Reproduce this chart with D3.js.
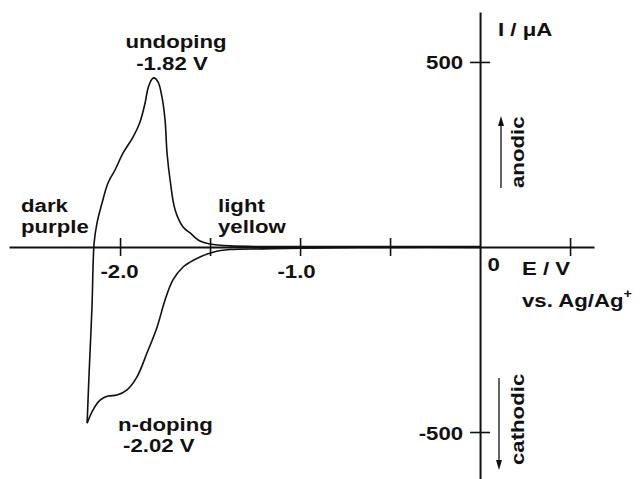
<!DOCTYPE html>
<html><head><meta charset="utf-8">
<script src="https://cdn.jsdelivr.net/npm/d3@7"></script>
<style>
html,body{margin:0;padding:0;background:#fff;}
svg{display:block;}
text{font-family:"Liberation Sans",Arial,Helvetica,sans-serif;font-weight:bold;font-size:18.5px;fill:#111;}
</style></head>
<body>
<svg id="chart" width="642" height="479"></svg>
<script>
// ---- data (E in V vs Ag/Ag+, I in µA) ----
const cathodicE = [0, -0.5, -1.0, -1.206, -1.389, -1.483, -1.556, -1.611, -1.65, -1.706, -1.75, -1.794, -1.85, -1.906, -1.961, -2.017, -2.067, -2.111, -2.15, -2.183];
const cathodicI = [-1, -1, -3, -5, -7, -14, -27, -41, -54, -89, -143, -216, -286, -351, -386, -400, -403, -414, -440, -476];
const anodicE = [-2.183, -2.172, -2.156, -2.144, -2.128, -2.1, -2.067, -2.028, -1.983, -1.928, -1.889, -1.861, -1.844, -1.822, -1.811, -1.789, -1.767, -1.75, -1.739, -1.722, -1.694, -1.65, -1.611, -1.556, -1.5, -1.389, -1.15, -1.0, -0.5, 0];
const anodicI = [-476, -341, -162, 11, 65, 119, 173, 208, 254, 297, 338, 389, 430, 454, 457, 446, 405, 343, 254, 181, 100, 54, 38, 16, 8, 3, 1, 1, 1, 1];
const xTickValues = [-2.0, -1.5, -1.0, -0.5, 0, 0.5];
const xTickLabels = {"-2": "-2.0", "-1": "-1.0", "0": "0"};
const yTickValues = [500, -500];
const yTickLabels = ["500", "-500"];

// ---- layout ----
const svg = d3.select("#chart");
const x = d3.scaleLinear().domain([-2.617, 0.633]).range([9, 594]);
const y = d3.scaleLinear().domain([635, -627]).range([12, 479]);
const SX = 1.2;

// x axis
const gx = svg.append("g").attr("transform", `translate(0,${y(0)})`)
  .call(d3.axisBottom(x).tickValues(xTickValues).tickSizeOuter(0)
    .tickFormat(d => xTickLabels[String(d)] || ""));
gx.select(".domain").attr("stroke", "#111").attr("stroke-width", 2);
gx.selectAll(".tick line").attr("y1", -9).attr("y2", 9).attr("stroke", "#111").attr("stroke-width", 1.6)
  .filter(d => d === 0).remove();
gx.selectAll(".tick text").attr("y", 0).attr("dy", null).attr("font-size", null).attr("font-family", null).attr("fill", "#111")
  .attr("transform", d => d === 0 ? `translate(13,24) scale(${SX},1)` : `translate(${d === -1 ? -4 : -1},31) scale(${SX},1)`);

// y axis
const gy = svg.append("g").attr("transform", `translate(${x(0)},0)`)
  .call(d3.axisLeft(y).tickValues(yTickValues).tickSizeOuter(0)
    .tickFormat((d, i) => yTickLabels[i]));
gy.select(".domain").attr("stroke", "#111").attr("stroke-width", 2);
gy.selectAll(".tick line").attr("x1", -10).attr("x2", 10).attr("stroke", "#111").attr("stroke-width", 1.6);
gy.selectAll(".tick text").attr("x", 0).attr("dy", null).attr("font-size", null).attr("font-family", null).attr("fill", "#111")
  .attr("text-anchor", "end").attr("transform", `translate(-17,7) scale(${SX},1)`);

// curves
const line = d3.line().x(d => x(d[0])).y(d => y(d[1])).curve(d3.curveCatmullRom.alpha(0.5));
svg.append("path").datum(cathodicE.map((e, i) => [e, cathodicI[i]]))
  .attr("d", line).attr("fill", "none").attr("stroke", "#111").attr("stroke-width", 1.6);
svg.append("path").datum(anodicE.map((e, i) => [e, anodicI[i]]))
  .attr("d", line).attr("fill", "none").attr("stroke", "#111").attr("stroke-width", 1.6);

// labels
function label(txt, px, py, anchor, rot) {
  const g = svg.append("g").attr("transform", `translate(${px},${py}) rotate(${rot || 0}) scale(${SX},1)`);
  return g.append("text").attr("text-anchor", anchor || "start").text(txt);
}
label("undoping", 176, 48, "middle");
label("-1.82 V", 172, 70, "middle");
label("dark", 21, 212);
label("purple", 21, 233);
label("light", 218, 212);
label("yellow", 218, 233);
label("n-doping", 118, 431);
label("-2.02 V", 123, 452);
label("E / V", 522, 275);
const vs = label("vs. Ag/Ag", 522, 307);
vs.append("tspan").attr("dy", -9).attr("font-size", 12).text("+");
label("I / μA", 498, 36);
label("anodic", 524, 188, "start", -90);
label("cathodic", 524, 465, "start", -90);

// direction arrows
function arrow(px, y1, y2) {
  const dir = y2 < y1 ? -1 : 1;
  svg.append("line").attr("x1", px).attr("x2", px).attr("y1", y1).attr("y2", y2 - dir * 8)
    .attr("stroke", "#111").attr("stroke-width", 1.3);
  svg.append("path").attr("d", `M${px},${y2} L${px - 3},${y2 - dir * 10} L${px + 3},${y2 - dir * 10} Z`).attr("fill", "#111");
}
arrow(501, 188, 116);
arrow(499, 378, 470);
</script>
</body></html>
